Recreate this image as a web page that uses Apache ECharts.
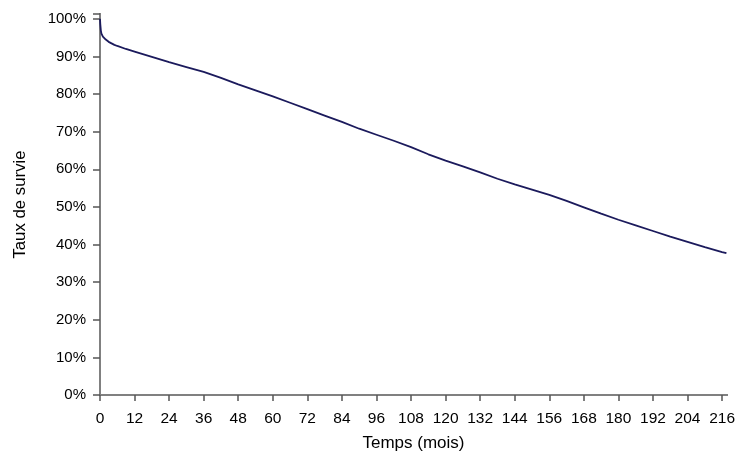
<!DOCTYPE html>
<html>
<head>
<meta charset="utf-8">
<script src="https://cdn.jsdelivr.net/npm/echarts@6/dist/echarts.min.js"></script>
<style>
  html, body { margin: 0; padding: 0; background: #fff; }
  #chart { width: 745px; height: 466px; }
</style>
</head>
<body>
<div id="chart"></div>
<script>
// courbe de survie
const months = [0, 0.1, 0.3, 0.5, 1, 1.5, 2, 3, 4, 5, 6, 9, 12, 18, 24, 30, 36, 42, 48, 54, 60, 66, 72, 78, 84, 90, 96, 102, 108, 114, 120, 126, 132, 138, 144, 150, 156, 162, 168, 174, 180, 186, 192, 198, 204, 210, 216, 217.5]
const survival = [100, 98.6, 96.9, 96.1, 95.3, 94.9, 94.5, 93.9, 93.5, 93.1, 92.8, 92.0, 91.3, 89.9, 88.5, 87.2, 85.9, 84.3, 82.6, 81.0, 79.4, 77.7, 76.0, 74.3, 72.6, 70.8, 69.2, 67.6, 65.9, 64.0, 62.3, 60.8, 59.2, 57.5, 56.0, 54.6, 53.2, 51.6, 49.9, 48.2, 46.6, 45.1, 43.6, 42.1, 40.7, 39.3, 38.0, 37.7]
const xTicks = [0, 12, 24, 36, 48, 60, 72, 84, 96, 108, 120, 132, 144, 156, 168, 180, 192, 204, 216]
const yTicks = [0, 10, 20, 30, 40, 50, 60, 70, 80, 90, 100]

const FONT = 'Liberation Sans, Arial, sans-serif'
const X_MAX = 217.7
const Y_MAX = 101.3

const chart = echarts.init(document.getElementById('chart'), null, { renderer: 'canvas' })

const points = months.map((m, i) => [m, survival[i]])

chart.setOption({
  animation: false,
  backgroundColor: '#fff',
  grid: { left: 100, right: 18, top: 14, bottom: 71 },
  xAxis: [
    {
      type: 'value',
      min: 0,
      max: X_MAX,
      interval: 12,
      offset: 2,
      name: 'Temps (mois)',
      nameLocation: 'middle',
      nameGap: 38,
      nameTextStyle: { fontFamily: FONT, fontSize: 17, color: '#000' },
      axisLine: { show: true, lineStyle: { color: '#555', width: 2 } },
      axisTick: { show: true, length: 6, lineStyle: { color: '#555', width: 1.5 } },
      axisLabel: {
        margin: 14,
        fontFamily: FONT,
        fontSize: 15.5,
        color: '#000',
        showMaxLabel: false,
        formatter: v => xTicks.includes(v) ? String(v) : ''
      },
      splitLine: { show: false }
    },
    {
      type: 'value',
      position: 'top',
      min: 0,
      max: X_MAX,
      axisLine: { show: true, lineStyle: { color: '#808080', width: 2 } },
      axisTick: { show: false },
      axisLabel: { show: false },
      splitLine: { show: false }
    }
  ],
  yAxis: [
    {
      type: 'value',
      min: 0,
      max: Y_MAX,
      interval: 10,
      offset: 1,
      name: 'Taux de survie',
      nameLocation: 'middle',
      nameGap: 70,
      nameTextStyle: { fontFamily: FONT, fontSize: 16.8, color: '#000' },
      axisLine: { show: true, lineStyle: { color: '#555', width: 2 } },
      axisTick: { show: true, length: 7, lineStyle: { color: '#555', width: 1.5 } },
      axisLabel: {
        margin: 13,
        fontFamily: FONT,
        fontSize: 15,
        color: '#000',
        formatter: v => yTicks.includes(v) ? v + '%' : ''
      },
      splitLine: { show: false }
    },
    {
      type: 'value',
      position: 'right',
      min: 0,
      max: Y_MAX,
      axisLine: { show: true, lineStyle: { color: '#808080', width: 2 } },
      axisTick: { show: false },
      axisLabel: { show: false },
      splitLine: { show: false }
    }
  ],
  series: [
    {
      type: 'line',
      data: points,
      showSymbol: false,
      smooth: false,
      lineStyle: { color: '#1b1a5c', width: 1.8 }
    }
  ]
})

window.addEventListener('resize', () => chart.resize())
</script>
</body>
</html>
